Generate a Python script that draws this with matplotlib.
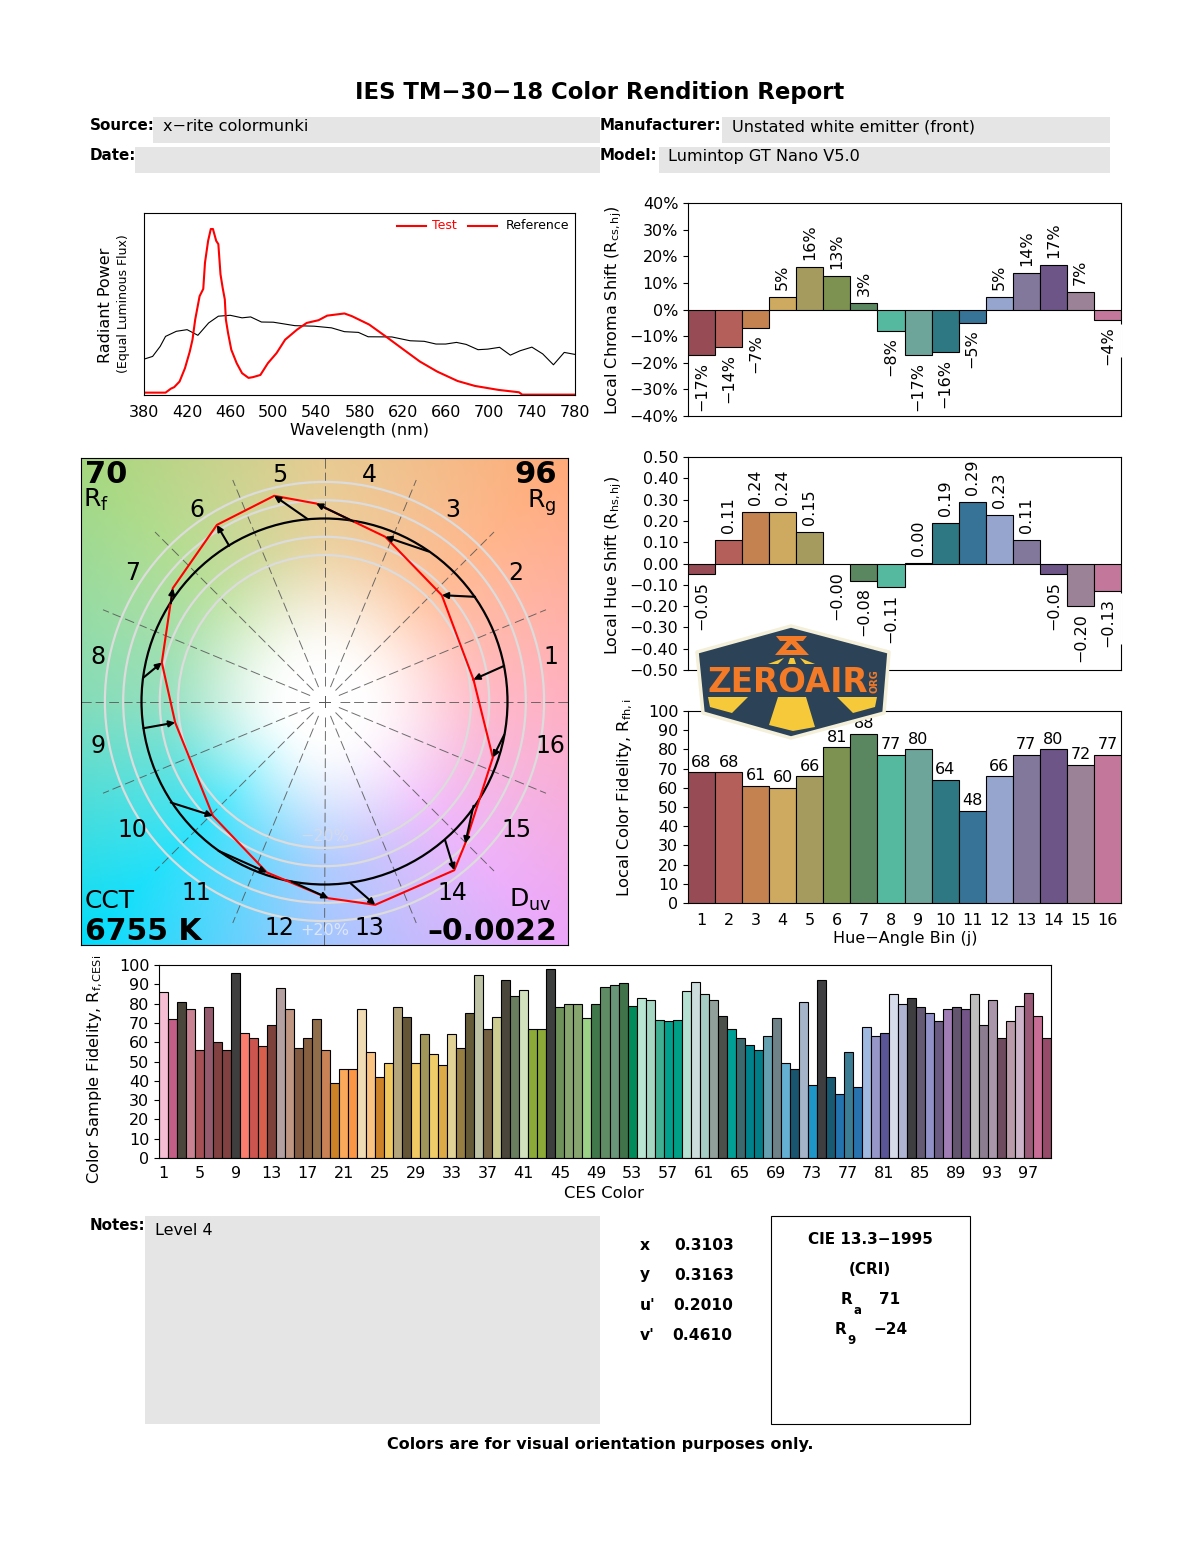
import numpy as np
import matplotlib
matplotlib.use('Agg')
import matplotlib.pyplot as plt
from matplotlib.patches import Circle, Polygon, Rectangle

W, H = 1200, 1550
MINUS = '\u2212'

# spectrum
test_wl = [380, 400, 405, 408, 413, 418, 422.5, 425, 427.5, 431.6, 435, 436.6, 439.5, 442, 444, 447, 449, 451, 453,
           455, 456, 458, 461, 466, 471, 477, 481, 488, 495, 503, 511, 522, 531, 542, 550, 566, 573, 589, 605, 621,
           636, 652, 671, 687, 709, 728, 731, 780]
test_power = [.013, .013, .035, .043, .074, .147, .239, .304, .414, .543, .583, .727, .847, .912, .912, .847, .829,
              .663, .589, .525, .414, .341, .249, .175, .120, .094, .098, .110, .175, .230, .304, .359, .396, .411,
              .436, .448, .433, .387, .319, .249, .184, .129, .077, .050, .028, .015, .002, .002]
ref_wl = [380, 388, 395, 400, 410, 420, 430, 440, 449, 460, 471, 479, 489, 500, 520, 538, 554, 566, 579, 588, 610,
          627, 640, 651, 660, 670, 679, 690, 699, 710, 720, 729, 740, 750, 760, 770, 780]
ref_power = [.197, .212, .267, .322, .350, .359, .328, .396, .433, .438, .424, .429, .401, .400, .381, .378, .369,
             .348, .344, .320, .319, .298, .295, .280, .280, .289, .278, .249, .252, .262, .219, .243, .263, .226,
             .166, .234, .223]
wl_ticks = [380, 420, 460, 500, 540, 580, 620, 660, 700, 740, 780]

# hue bins
bins = list(range(1, 17))
chroma_shift = [-17, -14, -6.8, 4.8, 15.8, 12.7, 2.6, -7.9, -17, -16, -4.9, 4.8, 13.8, 16.9, 6.7, -3.8]
chroma_labels = [-17, -14, -7, 5, 16, 13, 3, -8, -17, -16, -5, 5, 14, 17, 7, -4]
hue_shift = [-0.05, 0.11, 0.24, 0.24, 0.15, -0.002, -0.08, -0.11, 0.002, 0.19, 0.29, 0.23, 0.11, -0.05, -0.20, -0.13]
local_fidelity = [68, 68, 61, 60, 66, 81, 88, 77, 80, 64, 48, 66, 77, 80, 72, 77]
bin_rgb = [(150, 75, 85), (180, 95, 90), (195, 130, 80), (205, 170, 95), (165, 155, 95), (125, 145, 80),
           (90, 135, 95), (85, 185, 160), (110, 165, 155), (45, 120, 130), (55, 115, 150), (150, 165, 205),
           (130, 120, 155), (110, 85, 135), (155, 130, 150), (195, 120, 155)]

# color samples
sample_fidelity = [86, 72, 81, 77, 56, 78, 60, 56, 96, 65, 62, 58, 69, 88, 77, 57, 62, 72, 56, 39,
                   46, 46, 77, 55, 42, 49, 78, 73, 49, 64, 54, 48, 64, 57, 75, 95, 67, 73, 92, 84,
                   87, 67, 67, 98, 78, 80, 80, 72.5, 80, 88.6, 89.6, 90.7, 79, 83, 82, 71.5, 71, 71.5, 86.5, 91,
                   85, 82, 73.6, 67, 62, 58.5, 56, 63, 72.5, 49, 46, 81, 38, 92, 42, 33, 55, 37, 68, 63,
                   65, 85, 80, 83, 78, 75, 71, 77, 78, 77, 85, 69, 82, 62, 71, 79, 85.5, 73.6, 62]
sample_rgb = [(245, 190, 210), (195, 95, 135), (75, 70, 60), (200, 130, 145), (165, 80, 85), (150, 90, 110),
              (130, 65, 65), (130, 65, 65), (62, 62, 62), (250, 125, 110), (205, 85, 80), (215, 95, 75),
              (125, 65, 60), (180, 160, 160), (190, 150, 130), (130, 90, 65), (135, 95, 65), (145, 110, 75),
              (200, 130, 85), (205, 130, 40), (250, 170, 90), (250, 150, 70), (240, 220, 180), (250, 195, 130),
              (205, 130, 40), (240, 200, 95), (180, 165, 125), (100, 85, 55), (240, 200, 100), (160, 150, 90),
              (240, 205, 105), (220, 170, 70), (225, 210, 150), (150, 125, 65), (100, 90, 55), (190, 195, 165),
              (115, 95, 65), (205, 205, 145), (75, 70, 60), (105, 125, 95), (210, 225, 190), (140, 170, 55),
              (140, 170, 55), (60, 62, 62), (110, 145, 90), (135, 165, 110), (135, 165, 110), (155, 210, 135),
              (65, 120, 75), (95, 140, 100), (105, 150, 120), (65, 115, 75), (0, 140, 90), (185, 230, 210),
              (165, 215, 195), (65, 175, 145), (0, 160, 140), (0, 160, 135), (180, 225, 210), (205, 220, 220),
              (165, 205, 195), (145, 160, 155), (75, 80, 75), (0, 160, 150), (60, 105, 110), (0, 130, 140),
              (0, 125, 135), (100, 160, 175), (110, 130, 135), (100, 175, 210), (25, 85, 110), (165, 180, 200),
              (30, 150, 200), (62, 62, 65), (25, 90, 115), (35, 115, 175), (60, 125, 150), (40, 115, 175),
              (160, 185, 225), (150, 150, 200), (90, 85, 150), (215, 220, 235), (175, 180, 210), (62, 62, 65),
              (100, 90, 115), (145, 145, 200), (105, 90, 130), (160, 125, 180), (100, 85, 110), (115, 85, 135),
              (190, 190, 190), (140, 125, 145), (170, 150, 170), (110, 75, 95), (185, 155, 170), (205, 180, 200),
              (155, 90, 120), (200, 110, 150), (150, 75, 105)]

# color vector graphic, reference radius = 1
ref_x = [0.982, 0.823, 0.568, 0.158, -0.091, -0.521, -0.840, -0.989, -0.989, -0.840, -0.579, -0.179, 0.144, 0.659, 0.814, 0.982]
ref_y = [0.195, 0.572, 0.820, 0.984, 0.996, 0.851, 0.536, 0.131, -0.146, -0.552, -0.816, -0.984, -0.995, -0.758, -0.570, -0.182]
test_x = [0.814, 0.641, 0.332, -0.046, -0.275, -0.588, -0.829, -0.889, -0.816, -0.610, -0.315, 0.022, 0.277, 0.709, 0.769, 0.920]
test_y = [0.120, 0.581, 0.900, 1.082, 1.124, 0.965, 0.619, 0.213, -0.115, -0.625, -0.934, -1.075, -1.111, -0.922, -0.776, -0.306]
anchor_deg = [0, 45, 90, 135, 180, 225, 270, 315, 360]
anchor_rgb = [(255, 165, 185), (255, 170, 120), (228, 195, 130), (165, 215, 125), (115, 215, 175),
              (0, 220, 250), (150, 190, 255), (235, 165, 250), (255, 165, 185)]


def px_axes(left, top, right, bottom):
    return fig.add_axes([left / W, 1 - bottom / H, (right - left) / W, (bottom - top) / H])


def value_text(ax, x, y, s, rotation=90):
    va = 'bottom' if y >= 0 else 'top'
    ax.annotate(s, (x, y), xytext=(0, 5 if y >= 0 else -5), textcoords='offset points', ha='center', va=va,
                rotation=rotation, fontsize=11.5, zorder=3, annotation_clip=False)


def bin_bars(ax, values):
    colors = np.array(bin_rgb) / 255
    ax.bar(bins, values, width=1, color=colors, edgecolor='black', linewidth=0.8, zorder=4)
    ax.set_xlim(0.5, 16.5)


def spine_gap(ax, low, high):
    # the last value label knocks a piece out of the right spine
    ax.plot([16.5, 16.5], [low, high], color='white', lw=2, clip_on=False, zorder=5, solid_capstyle='butt')


plt.rcParams['font.family'] = 'DejaVu Sans'
plt.rcParams['font.size'] = 11.5
plt.rcParams['axes.linewidth'] = 0.8
plt.rcParams['mathtext.default'] = 'regular'

fig = plt.figure(figsize=(W / 100, H / 100), dpi=100, facecolor='white')

# spectrum
ax = px_axes(144, 213, 575, 395)
ax.plot(ref_wl, ref_power, color='black', lw=0.8)
ax.plot(test_wl, test_power, color='red', lw=1.5)
ax.set_xlim(380, 780)
ax.set_ylim(0, 1)
ax.set_yticks([])
ax.set_xticks(wl_ticks)
ax.tick_params(axis='x', length=0, pad=7)
ax.plot([0.587, 0.655], [0.93, 0.93], color='red', lw=1.5, transform=ax.transAxes)
ax.plot([0.752, 0.82], [0.93, 0.93], color='red', lw=1.5, transform=ax.transAxes)
ax.text(0.668, 0.93, 'Test', color='red', fontsize=9, va='center', transform=ax.transAxes)
ax.text(0.84, 0.93, 'Reference', color='black', fontsize=9, va='center', transform=ax.transAxes)

# chroma shift
ax = px_axes(688, 203, 1121, 416)
bin_bars(ax, chroma_shift)
ax.set_ylim(-40, 40)
ax.set_xticks([])
chroma_ticks = list(range(-40, 41, 10))
ax.set_yticks(chroma_ticks)
ax.set_yticklabels([f'{t}%'.replace('-', MINUS) for t in chroma_ticks])
for i, v in zip(bins, chroma_labels):
    value_text(ax, i, chroma_shift[i - 1], f'{v}%'.replace('-', MINUS))
spine_gap(ax, -5.6, -18)

# hue shift
ax = px_axes(688, 457, 1121, 670)
bin_bars(ax, hue_shift)
ax.set_ylim(-0.5, 0.5)
ax.set_xticks([])
hue_ticks = np.arange(-5, 6) / 10
ax.set_yticks(hue_ticks)
ax.set_yticklabels([f'{t:.2f}'.replace('-', MINUS) for t in hue_ticks])
for i, v in zip(bins, hue_shift):
    value_text(ax, i, v, f'{v:.2f}'.replace('-', MINUS))
spine_gap(ax, -0.14, -0.38)

# local fidelity
ax = px_axes(688, 711, 1121, 903)
bin_bars(ax, local_fidelity)
ax.set_ylim(0, 100)
ax.set_yticks(range(0, 101, 10))
ax.set_xticks(bins)
ax.tick_params(axis='x', length=0, pad=7)
for i, v in zip(bins, local_fidelity):
    ax.annotate(str(v), (i, v), xytext=(0, 2), textcoords='offset points', ha='center', va='bottom',
                fontsize=11.5, zorder=3, annotation_clip=False)

# sample fidelity
ax = px_axes(159, 965, 1051, 1158)
sample_idx = np.arange(1, len(sample_fidelity) + 1)
ax.bar(sample_idx, sample_fidelity, width=1, color=np.array(sample_rgb) / 255, edgecolor='black', linewidth=0.8)
ax.set_xlim(0.5, 99.5)
ax.set_ylim(0, 100)
ax.set_yticks(range(0, 101, 10))
ax.set_xticks(range(1, 98, 4))
ax.tick_params(axis='x', length=0, pad=6)

# color vector graphic
ax = px_axes(81, 458, 568, 945)
lim = 243.5 / 183
gx, gy = np.meshgrid(np.linspace(-lim, lim, 500), np.linspace(lim, -lim, 500))
r = np.hypot(gx, gy)
ang = np.degrees(np.arctan2(gy, gx)) % 360
edge = np.stack([np.interp(ang, anchor_deg, [c[k] for c in anchor_rgb]) for k in range(3)], axis=-1) / 255
t = np.clip((r - 0.15) / 0.85, 0, 1)
blend = 0.8 * t * t * (3 - 2 * t) + 0.2 * np.clip((r - 1) / 0.9, 0, 1)
ax.imshow(1 - blend[..., None] * (1 - edge), extent=[-lim, lim, -lim, lim], zorder=0)
ax.set_xlim(-lim, lim)
ax.set_ylim(-lim, lim)
ax.set_xticks([])
ax.set_yticks([])
for k in range(16):
    a = np.deg2rad(k * 22.5)
    rr = lim if k % 4 == 0 else 1.31
    ax.plot([0.085 * np.cos(a), rr * np.cos(a)], [0.085 * np.sin(a), rr * np.sin(a)], color='#555555', lw=0.7,
            dashes=(10, 4), alpha=0.85, zorder=1)
ax.plot([-0.03, 0.03], [0, 0], color='#555555', lw=0.7, zorder=1)
ax.plot([0, 0], [-0.03, 0.03], color='#555555', lw=0.7, zorder=1)
for rad in (0.8, 0.9, 1.1, 1.2):
    ax.add_patch(Circle((0, 0), rad, fill=False, ec='#dcdcdc', lw=1.6, zorder=2))
ax.add_patch(Circle((0, 0), 1, fill=False, ec='black', lw=1.6, zorder=3))
ax.plot(test_x + test_x[:1], test_y + test_y[:1], color='red', lw=1.5, zorder=4)
for x0, y0, x1, y1 in zip(ref_x, ref_y, test_x, test_y):
    ax.annotate('', xy=(x1, y1), xytext=(x0, y0), zorder=5,
                arrowprops=dict(arrowstyle='-|>', color='black', lw=1.5, mutation_scale=9, shrinkA=0, shrinkB=0))
for i in bins:
    a = np.deg2rad((i - 0.5) * 22.5)
    ax.text(1.26 * np.cos(a), 1.26 * np.sin(a), str(i), fontsize=17, ha='center', va='center', zorder=6)
ax.text(0, -0.74, MINUS + '20%', color='#d8dce6', fontsize=11.5, alpha=0.8, ha='center', va='center', zorder=3)
ax.text(0, -1.252, '+20%', color='#dde6f8', fontsize=11.5, ha='center', va='center', zorder=3)
ax.text(0.008, 0.995, '70', fontsize=22, fontweight='bold', ha='left', va='top', transform=ax.transAxes, zorder=6)
ax.text(0.005, 0.94, '$R_f$', fontsize=18, ha='left', va='top', transform=ax.transAxes, zorder=6)
ax.text(0.978, 0.995, '96', fontsize=22, fontweight='bold', ha='right', va='top', transform=ax.transAxes, zorder=6)
ax.text(0.975, 0.94, '$R_g$', fontsize=18, ha='right', va='top', transform=ax.transAxes, zorder=6)
ax.text(0.008, 0.065, 'CCT', fontsize=18, ha='left', va='bottom', transform=ax.transAxes, zorder=6)
ax.text(0.008, -0.002, '6755 K', fontsize=21.5, fontweight='bold', ha='left', va='bottom', transform=ax.transAxes, zorder=6)
ax.text(0.965, 0.065, '$D_{uv}$', fontsize=18, ha='right', va='bottom', transform=ax.transAxes, zorder=6)
ax.text(0.977, -0.002, '\u20130.0022', fontsize=21.5, fontweight='bold', ha='right', va='bottom', transform=ax.transAxes, zorder=6)

# page overlay: header, labels, boxes, logo
page = fig.add_axes([0, 0, 1, 1], facecolor='none')
page.set_xlim(0, W)
page.set_ylim(H, 0)
page.axis('off')

grey = '#e5e5e5'
for x0, y0, x1, y1 in [(153, 117, 600, 143), (135, 147, 600, 173), (722, 117, 1110, 143), (659, 147, 1110, 173),
                       (145, 1216, 600, 1424)]:
    page.add_patch(Rectangle((x0, y0), x1 - x0, y1 - y0, fc=grey, ec='none'))
page.add_patch(Rectangle((771, 1216), 199, 208, fc='white', ec='black', lw=0.8))

page.text(600, 92.5, f'IES TM{MINUS}30{MINUS}18 Color Rendition Report', fontsize=16.4, fontweight='bold', ha='center', va='center')
for x, y, s in [(90, 126, 'Source:'), (90, 156, 'Date:'), (600, 126, 'Manufacturer:'), (600, 156, 'Model:'), (90, 1226, 'Notes:')]:
    page.text(x, y, s, fontsize=10.9, fontweight='bold', va='center')
for x, y, s in [(163, 126.5, 'x\u2212rite colormunki'), (732, 126.5, 'Unstated white emitter (front)'),
                (668, 156.5, 'Lumintop GT Nano V5.0')]:
    page.text(x, y, s, fontsize=11.6, va='center')
page.text(155, 1230.5, 'Level 4', fontsize=11.5, va='center')

page.text(105, 305, 'Radiant Power', fontsize=11.5, rotation=90, ha='center', va='center')
page.text(123, 304, '(Equal Luminous Flux)', fontsize=9, rotation=90, ha='center', va='center')
page.text(359, 431, 'Wavelength (nm)', fontsize=11.5, ha='center', va='center')
page.text(614, 310, 'Local Chroma Shift ($R_{cs,hj}$)', fontsize=11.5, rotation=90, ha='center', va='center')
page.text(614, 565, 'Local Hue Shift ($R_{hs,hj}$)', fontsize=11.5, rotation=90, ha='center', va='center')
page.text(625, 798, 'Local Color Fidelity, $R_{fh,i}$', fontsize=11.8, rotation=90, ha='center', va='center')
page.text(905, 939, f'Hue{MINUS}Angle Bin (j)', fontsize=11.5, ha='center', va='center')
page.text(95, 1069, 'Color Sample Fidelity, $R_{f,CESi}$', fontsize=11.6, rotation=90, ha='center', va='center')
page.text(604, 1194, 'CES Color', fontsize=11.8, ha='center', va='center')

for y, name, val, vx in [(1245, 'x', '0.3103', 674), (1275, 'y', '0.3163', 674), (1305, "u'", '0.2010', 673), (1335, "v'", '0.4610', 672)]:
    page.text(640, y, name, fontsize=11.2, fontweight='bold', va='center')
    page.text(vx, y, val, fontsize=11.2, fontweight='bold', va='center')
page.text(870, 1240, f'CIE 13.3{MINUS}1995', fontsize=11, fontweight='bold', ha='center', va='center')
page.text(870, 1270, '(CRI)', fontsize=11, fontweight='bold', ha='center', va='center')
page.text(841, 1300, 'R', fontsize=11, fontweight='bold', va='center')
page.text(853, 1311, 'a', fontsize=8.5, fontweight='bold', va='center')
page.text(879, 1300, '71', fontsize=11, fontweight='bold', va='center')
page.text(835, 1330, 'R', fontsize=11, fontweight='bold', va='center')
page.text(847, 1341, '9', fontsize=8.5, fontweight='bold', va='center')
page.text(873, 1330, f'{MINUS}24', fontsize=11, fontweight='bold', va='center')
page.text(600.5, 1444, 'Colors are for visual orientation purposes only.', fontsize=11.5, fontweight='bold', ha='center', va='center')

# logo
logo_outer = [(791, 626), (697, 652), (703, 713), (791, 738), (884, 713), (889, 652)]
page.add_patch(Polygon(logo_outer, closed=True, fc='#2c4257', ec='#f4efd8', lw=2.5, joinstyle='round', zorder=10))
orange = '#f37a27'
yellow = '#f6c93b'
for pts, col in [([(776, 636), (807, 636), (803, 641), (796, 641), (809, 655), (775, 655), (787, 641), (780, 641)], orange),
                 ([(786, 650), (797, 650), (791.5, 644)], '#2c4257'),
                 ([(708, 697), (748, 697), (732, 713), (710, 707)], yellow),
                 ([(778, 697), (806, 697), (815, 727), (793, 731), (769, 725)], yellow),
                 ([(837, 697), (877, 697), (875, 707), (853, 713)], yellow),
                 ([(768, 664), (784, 658), (778, 664)], yellow),
                 ([(788, 664), (790, 658), (794, 658), (796, 664)], yellow),
                 ([(800, 658), (815, 664), (805, 664)], yellow)]:
    page.add_patch(Polygon(pts, closed=True, fc=col, ec='none', zorder=11))
page.text(788, 682, 'ZEROAIR', fontsize=23.5, fontweight='heavy', color=orange, ha='center', va='center', zorder=11)
page.text(875, 681, 'ORG', fontsize=7, fontweight='bold', color=orange, rotation=90, ha='center', va='center', zorder=11)

fig.savefig('out.png', dpi=100)
